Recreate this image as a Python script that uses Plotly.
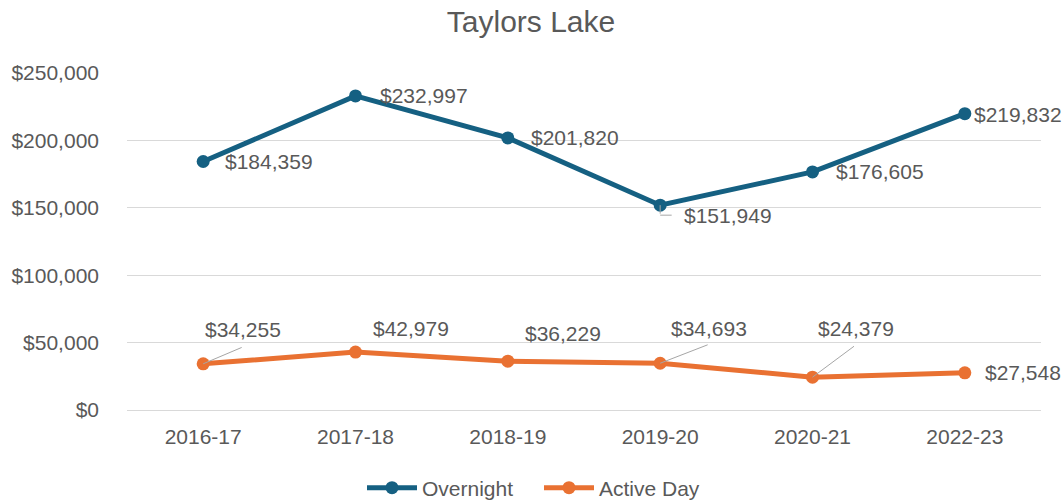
import plotly.graph_objects as go

categories = ["2016-17", "2017-18", "2018-19", "2019-20", "2020-21", "2022-23"]
overnight = [184359, 232997, 201820, 151949, 176605, 219832]
active_day = [34255, 42979, 36229, 34693, 24379, 27548]
y_ticks = [0, 50000, 100000, 150000, 200000, 250000]

BLUE = "#156082"
ORANGE = "#E97132"
TXT = "#595959"
LEAD = "#A6A6A6"
FONT = "Liberation Sans"
FS = 21

fig = go.Figure()
fig.add_trace(go.Scatter(x=categories, y=overnight, name="Overnight", mode="lines+markers",
                         line=dict(color=BLUE, width=5), marker=dict(size=13, color=BLUE)))
fig.add_trace(go.Scatter(x=categories, y=active_day, name="Active Day", mode="lines+markers",
                         line=dict(color=ORANGE, width=5), marker=dict(size=13, color=ORANGE)))

def fmt(v):
    return "${:,}".format(v)

lab_font = dict(family=FONT, size=FS, color=TXT)

# Overnight labels (left-anchored, right of the point)
o_shift = [(20, 0), (22, 0), (21, 0), (22, -10), (21, 0), (7, -1)]
for c, v, (dx, dy) in zip(categories, overnight, o_shift):
    fig.add_annotation(x=c, y=v, text=fmt(v), showarrow=False, xanchor="left",
                       xshift=dx, yshift=dy, font=lab_font)
# elbow leader for 151,949
fig.add_annotation(x=categories[3], y=overnight[3], text="", showarrow=True, arrowhead=0,
                   ax=0, ay=10, arrowcolor=LEAD, arrowwidth=1, standoff=0, startstandoff=0)
fig.add_annotation(x=categories[3], y=overnight[3], text="", showarrow=True, arrowhead=0,
                   ax=13, ay=0, yshift=-10, arrowcolor=LEAD, arrowwidth=1, standoff=0, startstandoff=0)

# Active Day labels (centered above, pixel offsets)
a_shift = [(40, 34), (55, 24), (55, 28), (49, 35), (43, 49), None]
for c, v, s in zip(categories, active_day, a_shift):
    if s is None:
        fig.add_annotation(x=c, y=v, text=fmt(v), showarrow=False, xanchor="left",
                           xshift=18, font=lab_font)
    else:
        fig.add_annotation(x=c, y=v, text=fmt(v), showarrow=False,
                           xshift=s[0], yshift=s[1], font=lab_font)

# leader lines for Active Day labels
leaders = {0: (40, -17), 3: (49, -19), 4: (43, -32)}
for i, (lx, ly) in leaders.items():
    fig.add_annotation(x=categories[i], y=active_day[i], text="", showarrow=True, arrowhead=0,
                       ax=lx, ay=ly, arrowcolor=LEAD, arrowwidth=1, standoff=0, startstandoff=0)

fig.update_layout(
    width=1062, height=501,
    margin=dict(l=127, r=21, t=73, b=91, autoexpand=False),
    paper_bgcolor="white", plot_bgcolor="white",
    title=dict(text="Taylors Lake", x=531 / 1062, xanchor="center", y=1 - 21 / 501, yanchor="middle",
               font=dict(family=FONT, size=30, color=TXT)),
    font=dict(family=FONT, size=FS, color=TXT),
    xaxis=dict(type="category", range=[-0.5, 5.5], showgrid=False, showline=True,
               linecolor="#D9D9D9", linewidth=1, ticks="", ticklabelstandoff=8,
               tickfont=dict(family=FONT, size=FS, color=TXT)),
    yaxis=dict(range=[0, 250000], tickvals=y_ticks, ticktext=[fmt(t) for t in y_ticks],
               showgrid=True, gridcolor="#D9D9D9", gridwidth=1, zeroline=False, ticks="",
               ticklabelstandoff=27, tickfont=dict(family=FONT, size=FS, color=TXT)),
    showlegend=True,
    legend=dict(orientation="h", x=(362 - 127) / 914, xanchor="left", y=-0.2315, yanchor="middle",
                font=dict(family=FONT, size=FS, color=TXT), itemwidth=50,
                entrywidth=112, bgcolor="rgba(0,0,0,0)"),
    hovermode=False,
)

fig.write_html("out.html", config={"displayModeBar": False},
               post_script="document.body.style.margin='0';document.body.style.overflow='hidden';")
